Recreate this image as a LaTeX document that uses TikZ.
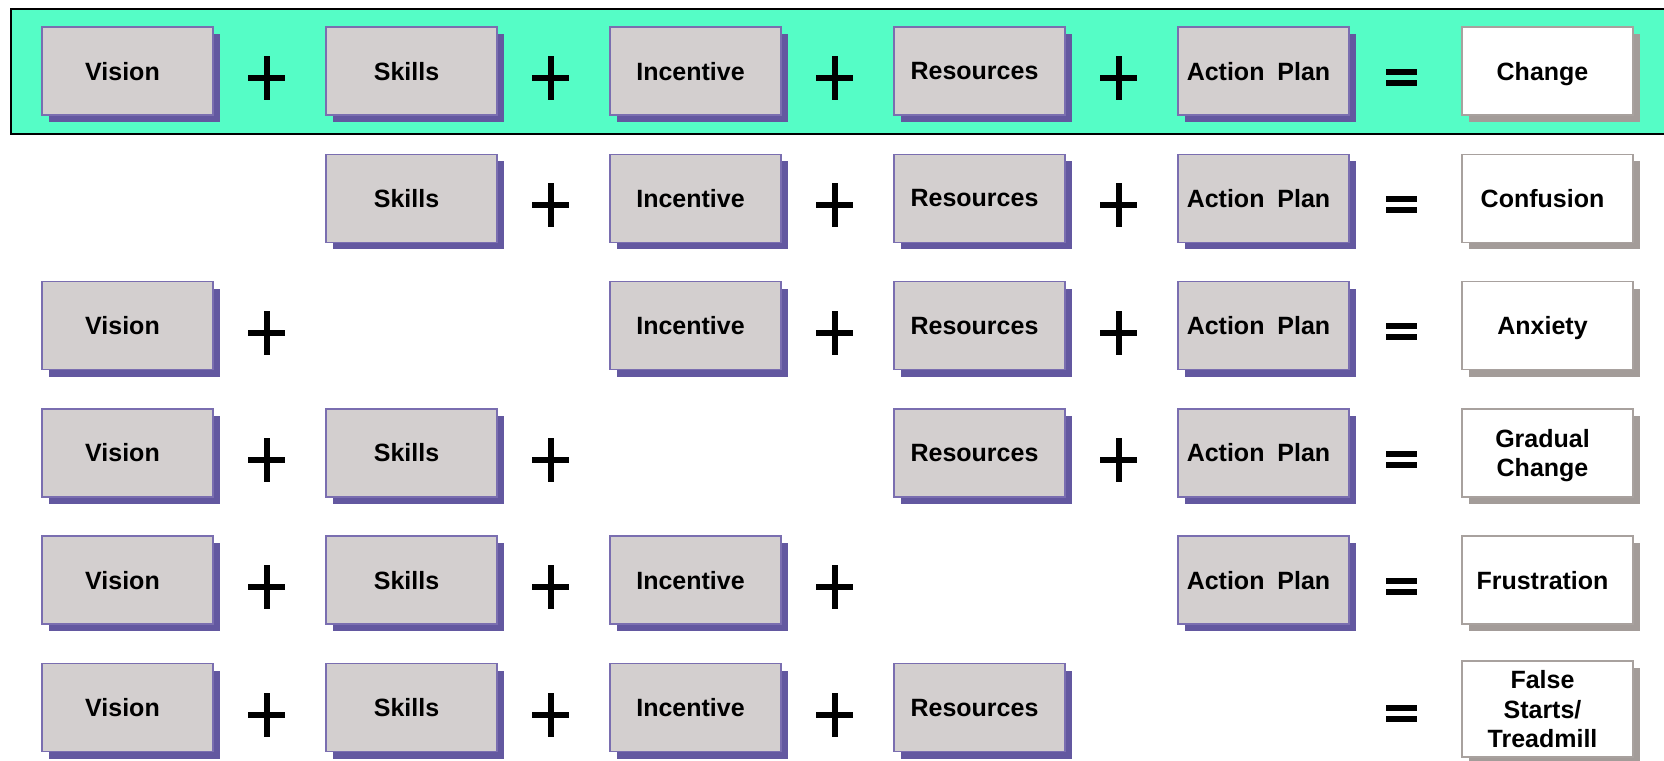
\documentclass[tikz,border=0pt]{standalone}
\usepackage{fontspec}
\setmainfont{Liberation Sans}
\usetikzlibrary{shadows}
\definecolor{bandfill}{RGB}{85,253,198}
\definecolor{boxfill}{RGB}{211,207,207}
\definecolor{boxedge}{RGB}{122,110,176}
\definecolor{boxshadow}{RGB}{99,88,160}
\definecolor{outedge}{RGB}{168,161,158}
\definecolor{outshadow}{RGB}{163,156,153}
\tikzset{
  lbl/.style={inner sep=0pt, align=center, xshift=-5pt, text depth=0pt,
    font=\fontsize{25}{29.5}\selectfont\bfseries},
  factor/.style={draw=boxedge, line width=1.5pt, fill=boxfill,
    minimum width=171pt, minimum height=88pt, inner sep=0pt,
    general shadow={fill=boxshadow, draw=none, shadow xshift=7pt, shadow yshift=-7pt},
    label={[lbl]center:#1}},
  outcome/.style={draw=outedge, line width=1.5pt, fill=white,
    minimum width=171pt, minimum height=88pt, inner sep=0pt,
    general shadow={fill=outshadow, draw=none, shadow xshift=7pt, shadow yshift=-7pt},
    label={[lbl]center:#1}},
  plusop/.style={minimum width=37pt, minimum height=44pt, inner sep=0pt,
    path picture={
      \fill[black] ([yshift=-3pt]path picture bounding box.west) rectangle ([yshift=3pt]path picture bounding box.east);
      \fill[black] ([xshift=-3pt]path picture bounding box.south) rectangle ([xshift=3pt]path picture bounding box.north);}},
  eqop/.style={minimum width=31pt, minimum height=17pt, inner sep=0pt,
    path picture={
      \fill[black] ([yshift=-6pt]path picture bounding box.north west) rectangle (path picture bounding box.north east);
      \fill[black] (path picture bounding box.south west) rectangle ([yshift=6pt]path picture bounding box.south east);}},
}
\newcommand{\actionplan}{Action{\hspace{6pt}} Plan}
\begin{document}
\begin{tikzpicture}[x=1pt, y=-1pt]
\useasboundingbox (0,0) rectangle (1664,760);
\fill[white] (0,0) rectangle (1664,760);
% banner
\fill[bandfill] (11,9) rectangle (1670,134);
\draw[line width=2pt, black] (1670,9) -- (11,9) -- (11,134) -- (1670,134);

% row 1
\node[factor=Vision] (v1) at (127.5,71) {};
\node[factor=Skills] (s1) at (411.5,71) {};
\node[factor=Incentive] (i1) at (695.5,71) {};
\node[factor=Resources] (r1) at (979.5,71) {};
\node[factor=\actionplan] (a1) at (1263.5,71) {};
\node[outcome=Change] (o1) at (1547.5,71) {};
\node[plusop] (p1a) at (266.5,78) {};
\node[plusop] (p1b) at (550.5,78) {};
\node[plusop] (p1c) at (834.5,78) {};
\node[plusop] (p1d) at (1118.5,78) {};
\node[eqop] (e1) at (1401.5,77.2) {};

% row 2
\node[factor=Skills] (s2) at (411.5,198.3) {};
\node[factor=Incentive] (i2) at (695.5,198.3) {};
\node[factor=Resources] (r2) at (979.5,198.3) {};
\node[factor=\actionplan] (a2) at (1263.5,198.3) {};
\node[outcome=Confusion] (o2) at (1547.5,198.3) {};
\node[plusop] (p2b) at (550.5,205.3) {};
\node[plusop] (p2c) at (834.5,205.3) {};
\node[plusop] (p2d) at (1118.5,205.3) {};
\node[eqop] (e2) at (1401.5,204.5) {};

% row 3
\node[factor=Vision] (v3) at (127.5,325.6) {};
\node[factor=Incentive] (i3) at (695.5,325.6) {};
\node[factor=Resources] (r3) at (979.5,325.6) {};
\node[factor=\actionplan] (a3) at (1263.5,325.6) {};
\node[outcome=Anxiety] (o3) at (1547.5,325.6) {};
\node[plusop] (p3a) at (266.5,332.6) {};
\node[plusop] (p3c) at (834.5,332.6) {};
\node[plusop] (p3d) at (1118.5,332.6) {};
\node[eqop] (e3) at (1401.5,331.8) {};

% row 4
\node[factor=Vision] (v4) at (127.5,452.9) {};
\node[factor=Skills] (s4) at (411.5,452.9) {};
\node[factor=Resources] (r4) at (979.5,452.9) {};
\node[factor=\actionplan] (a4) at (1263.5,452.9) {};
\node[outcome={Gradual\\Change}] (o4) at (1547.5,452.9) {};
\node[plusop] (p4a) at (266.5,459.9) {};
\node[plusop] (p4b) at (550.5,459.9) {};
\node[plusop] (p4d) at (1118.5,459.9) {};
\node[eqop] (e4) at (1401.5,459.1) {};

% row 5
\node[factor=Vision] (v5) at (127.5,580.2) {};
\node[factor=Skills] (s5) at (411.5,580.2) {};
\node[factor=Incentive] (i5) at (695.5,580.2) {};
\node[factor=\actionplan] (a5) at (1263.5,580.2) {};
\node[outcome=Frustration] (o5) at (1547.5,580.2) {};
\node[plusop] (p5a) at (266.5,587.2) {};
\node[plusop] (p5b) at (550.5,587.2) {};
\node[plusop] (p5c) at (834.5,587.2) {};
\node[eqop] (e5) at (1401.5,586.4) {};

% row 6
\node[factor=Vision] (v6) at (127.5,707.5) {};
\node[factor=Skills] (s6) at (411.5,707.5) {};
\node[factor=Incentive] (i6) at (695.5,707.5) {};
\node[factor=Resources] (r6) at (979.5,707.5) {};
\node[outcome={False\\Starts/\\Treadmill}, minimum height=96pt] (o6) at (1547.5,709) {};
\node[plusop] (p6a) at (266.5,714.5) {};
\node[plusop] (p6b) at (550.5,714.5) {};
\node[plusop] (p6c) at (834.5,714.5) {};
\node[eqop] (e6) at (1401.5,713.7) {};
\end{tikzpicture}
\end{document}
